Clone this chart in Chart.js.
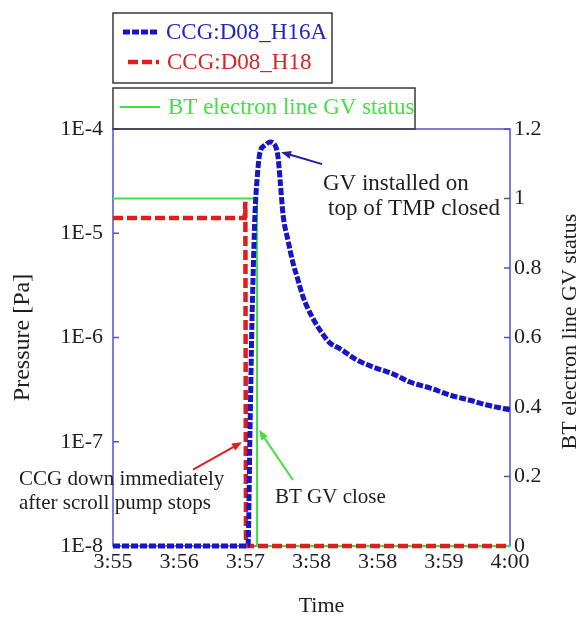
<!DOCTYPE html>
<html>
<head>
<meta charset="utf-8">
<script src="https://cdn.jsdelivr.net/npm/chart.js@4.4.1/dist/chart.umd.min.js"></script>
<style>
  body { margin: 0; background: #fff; }
  #wrap { width: 582px; height: 617px; }
</style>
</head>
<body>
<div id="wrap"><canvas id="gvChart" width="582" height="617"></canvas></div>
<script>
// ===== data (time = seconds after 3:55:00) =====
const h16aTime = [0, 102, 103.5, 105, 105.8, 107.3, 108.8, 111, 115, 118.6, 122.4, 124.7, 126.5, 128.5, 132.2, 136, 139.8, 143.6, 150.4, 158, 164, 171.5, 184.4, 196.5, 211.6, 224.4, 239.5, 254.7, 269.8, 282.6, 300];
const h16aPressure = [1e-8, 1e-8, 1.2e-7, 1.4e-6, 3.6e-6, 1.56e-5, 3.2e-5, 5.9e-5, 7.0e-5, 7.5e-5, 7.0e-5, 5.4e-5, 3.0e-5, 1.5e-5, 8.6e-6, 5.2e-6, 3.56e-6, 2.45e-6, 1.58e-6, 1.10e-6, 8.85e-7, 7.8e-7, 6.08e-7, 5.21e-7, 4.47e-7, 3.74e-7, 3.28e-7, 2.8e-7, 2.5e-7, 2.25e-7, 2.02e-7];

const h18Time = [0, 99.5, 100, 100.5, 300];
const h18Pressure = [1.4e-5, 1.4e-5, 2.0e-5, 1e-8, 1e-8];

const gvTime = [0, 108.8, 108.8, 300];
const gvStatus = [1, 1, 0, 0];

const timeTicks = [0, 50, 100, 150, 200, 250, 300];
const timeTickLabels = ['3:55', '3:56', '3:57', '3:58', '3:58', '3:59', '4:00'];
const pressureTicks = [1e-8, 1e-7, 1e-6, 1e-5, 1e-4];
const statusTicks = [0, 0.2, 0.4, 0.6, 0.8, 1, 1.2];
const statusTickLabels = ['0', '0.2', '0.4', '0.6', '0.8', '1', '1.2'];

// ===== styles =====
const SERIF = "'Liberation Serif', 'Times New Roman', serif";
const BLUE = '#1616c8';
const RED = '#e01c1c';
const GREEN = '#3fe33f';
const FRAME = '#5252c8';
const TEXT = '#1e1e1e';

// annotation texts / arrows, placed in data units (t, pressure)
const noteTexts = [
    { text: 'GV installed on', t: 158.7, p: 3.0e-5, size: 23 },
    { text: 'top of TMP closed', t: 162.5, p: 1.7e-5, size: 23 },
    { text: 'CCG down immediately', t: -71, p: 4.3e-8, size: 21 },
    { text: 'after scroll pump stops', t: -71, p: 2.58e-8, size: 21 },
    { text: 'BT GV close', t: 122.4, p: 2.9e-8, size: 21 }
];
const noteArrows = [
    { from: [158, 4.6e-5], to: [127, 6.0e-5], color: '#2020a8' },
    { from: [60.5, 5.4e-8], to: [97.5, 9.9e-8], color: '#d82020' },
    { from: [136, 4.3e-8], to: [110.3, 1.3e-7], color: GREEN }
];

function toPoints(xs, ys) {
    return xs.map((x, i) => ({ x: x, y: ys[i] }));
}

function drawArrow(ctx, x1, y1, x2, y2, color) {
    const ang = Math.atan2(y2 - y1, x2 - x1);
    const c = Math.cos(ang), s = Math.sin(ang);
    ctx.strokeStyle = color;
    ctx.fillStyle = color;
    ctx.lineWidth = 2;
    ctx.beginPath();
    ctx.moveTo(x1, y1);
    ctx.lineTo(x2 - 6 * c, y2 - 6 * s);
    ctx.stroke();
    ctx.beginPath();
    ctx.moveTo(x2, y2);
    ctx.lineTo(x2 - 10 * c + 4 * s, y2 - 10 * s - 4 * c);
    ctx.lineTo(x2 - 10 * c - 4 * s, y2 - 10 * s + 4 * c);
    ctx.closePath();
    ctx.fill();
}

// legend sample line + label
function legendRow(ctx, x1, x2, y, ds, label, color) {
    ctx.save();
    ctx.strokeStyle = ds.borderColor;
    ctx.lineWidth = ds.borderWidth;
    ctx.setLineDash(ds.borderDash || []);
    ctx.beginPath();
    ctx.moveTo(x1, y);
    ctx.lineTo(x2, y);
    ctx.stroke();
    ctx.restore();
    ctx.fillStyle = color;
    ctx.fillText(label, x2 + 8, y + 1);
}

const decorPlugin = {
    id: 'decor',
    beforeDatasetsDraw(chart) {
        const { ctx, chartArea: a, scales } = chart;
        ctx.save();
        ctx.strokeStyle = FRAME;
        ctx.lineWidth = 1.5;
        ctx.strokeRect(a.left, a.top, a.right - a.left, a.bottom - a.top);
        // inner tick marks
        ctx.beginPath();
        pressureTicks.forEach(v => {
            const y = scales.y.getPixelForValue(v);
            ctx.moveTo(a.left, y); ctx.lineTo(a.left + 6, y);
        });
        statusTicks.forEach(v => {
            const y = scales.y2.getPixelForValue(v);
            ctx.moveTo(a.right - 6, y); ctx.lineTo(a.right, y);
        });
        ctx.stroke();
        ctx.restore();
    },
    afterDatasetsDraw(chart) {
        const { ctx, chartArea: a, scales } = chart;
        const sx = scales.x, sy = scales.y;
        ctx.save();
        // annotations
        ctx.fillStyle = TEXT;
        ctx.textAlign = 'left';
        ctx.textBaseline = 'middle';
        noteTexts.forEach(n => {
            ctx.font = n.size + 'px ' + SERIF;
            ctx.fillText(n.text, sx.getPixelForValue(n.t), sy.getPixelForValue(n.p));
        });
        noteArrows.forEach(ar => drawArrow(ctx,
            sx.getPixelForValue(ar.from[0]), sy.getPixelForValue(ar.from[1]),
            sx.getPixelForValue(ar.to[0]), sy.getPixelForValue(ar.to[1]), ar.color));

        // legend boxes (above the plot)
        const ds = chart.data.datasets;
        ctx.strokeStyle = '#3a3a3a';
        ctx.lineWidth = 1.5;
        ctx.strokeRect(a.left, a.top - 116, 219, 70);
        ctx.strokeRect(a.left, a.top - 41, 302, 41);
        ctx.font = '23px ' + SERIF;
        legendRow(ctx, a.left + 10, a.left + 45, a.top - 97, ds[0], ds[0].label, '#2424c4');
        legendRow(ctx, a.left + 15, a.left + 46, a.top - 67, ds[1], ds[1].label, '#d42424');
        legendRow(ctx, a.left + 7, a.left + 47, a.top - 22, ds[2], ds[2].label, GREEN);

        // x axis title
        ctx.font = '22px ' + SERIF;
        ctx.fillStyle = TEXT;
        ctx.textAlign = 'center';
        ctx.fillText('Time', (a.left + a.right) / 2 + 10, a.bottom + 60);

        // right axis title, reading bottom to top
        ctx.translate(a.right + 60, (a.top + a.bottom) / 2 - 6);
        ctx.rotate(-Math.PI / 2);
        ctx.fillText('BT electron line GV status', 0, 0);
        ctx.restore();
    }
};

const ctx = document.getElementById('gvChart').getContext('2d');
new Chart(ctx, {
    type: 'line',
    data: {
        datasets: [{
            label: 'CCG:D08_H16A',
            data: toPoints(h16aTime, h16aPressure),
            yAxisID: 'y',
            borderColor: BLUE,
            borderWidth: 5,
            borderDash: [7, 2],
            cubicInterpolationMode: 'monotone',
            pointRadius: 0,
            clip: 8
        }, {
            label: 'CCG:D08_H18',
            data: toPoints(h18Time, h18Pressure),
            yAxisID: 'y',
            borderColor: RED,
            borderWidth: 4.5,
            borderDash: [10, 4],
            tension: 0,
            pointRadius: 0,
            clip: 8
        }, {
            label: 'BT electron line GV status',
            data: toPoints(gvTime, gvStatus),
            yAxisID: 'y2',
            borderColor: GREEN,
            borderWidth: 2,
            tension: 0,
            pointRadius: 0,
            clip: 8
        }]
    },
    options: {
        responsive: false,
        animation: false,
        devicePixelRatio: 1,
        layout: { padding: { top: 129, left: 0, right: 0, bottom: 0 } },
        plugins: { legend: { display: false }, tooltip: { enabled: false } },
        scales: {
            x: {
                type: 'linear',
                min: 0,
                max: 300,
                afterBuildTicks: s => { s.ticks = timeTicks.map(v => ({ value: v })); },
                afterFit: s => { s.height = 71; },
                grid: { display: false, drawTicks: false },
                border: { display: false },
                ticks: {
                    padding: 3,
                    color: TEXT,
                    font: { family: SERIF, size: 22 },
                    maxRotation: 0,
                    autoSkip: false,
                    callback: (v, i) => timeTickLabels[i]
                }
            },
            y: {
                type: 'logarithmic',
                position: 'left',
                min: 1e-8,
                max: 1e-4,
                afterBuildTicks: s => { s.ticks = pressureTicks.map(v => ({ value: v })); },
                afterFit: s => { s.width = 113; },
                grid: { display: false, drawTicks: false },
                border: { display: false },
                ticks: {
                    padding: 10,
                    color: TEXT,
                    font: { family: SERIF, size: 22 },
                    callback: v => '1E' + Math.round(Math.log10(v))
                },
                title: { display: true, text: 'Pressure [Pa]', color: TEXT, font: { family: SERIF, size: 24, lineHeight: 1 }, padding: { top: 11, bottom: 0 } }
            },
            y2: {
                type: 'linear',
                position: 'right',
                min: 0,
                max: 1.2,
                afterBuildTicks: s => { s.ticks = statusTicks.map(v => ({ value: v })); },
                afterFit: s => { s.width = 72; },
                grid: { display: false, drawTicks: false },
                border: { display: false },
                ticks: {
                    padding: 4,
                    color: TEXT,
                    font: { family: SERIF, size: 22 },
                    callback: (v, i) => statusTickLabels[i]
                }
            }
        }
    },
    plugins: [decorPlugin]
});
</script>
</body>
</html>
